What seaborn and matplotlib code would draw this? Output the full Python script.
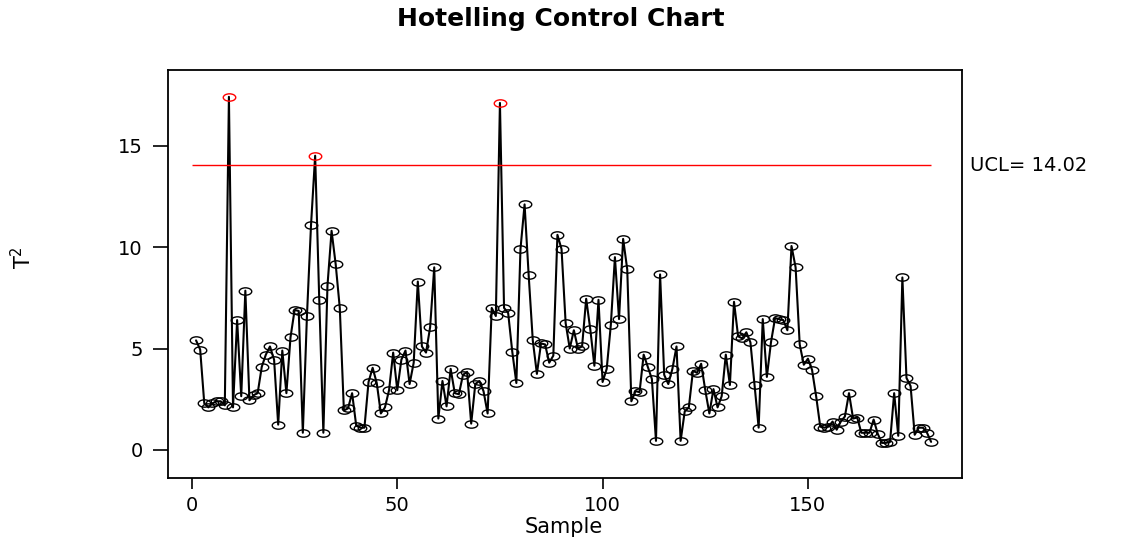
import numpy as np
import pandas as pd
import matplotlib
matplotlib.use('Agg')
import matplotlib.pyplot as plt
import seaborn as sns
from matplotlib.path import Path
from matplotlib.transforms import Affine2D

# Estilo
sns.set_style("ticks")
plt.rcParams['font.family'] = ['DejaVu Sans']
plt.rcParams['text.color'] = 'black'
plt.rcParams['axes.labelcolor'] = 'black'
plt.rcParams['xtick.color'] = 'black'
plt.rcParams['ytick.color'] = 'black'

# Dados (T², amostras 1..180)
amostras = list(range(1, 181))
t2_valores = [
    5.4, 4.95, 2.3, 2.1, 2.3, 2.4, 2.4, 2.2, 17.4, 2.1,
    6.4, 2.65, 7.85, 2.45, 2.7, 2.8, 4.1, 4.7, 5.1, 4.45,
    1.25, 4.9, 2.8, 5.55, 6.9, 6.85, 0.85, 6.6, 11.1, 14.5,
    7.4, 0.85, 8.1, 10.8, 9.15, 7.0, 1.95, 2.05, 2.8, 1.2,
    1.1, 1.1, 3.35, 4.05, 3.3, 1.8, 2.1, 2.95, 4.8, 2.95,
    4.45, 4.9, 3.25, 4.3, 8.3, 5.1, 4.8, 6.05, 9.0, 1.55,
    3.4, 2.15, 4.0, 2.8, 2.75, 3.7, 3.85, 1.3, 3.25, 3.4,
    2.9, 1.8, 7.0, 6.6, 17.1, 7.0, 6.75, 4.85, 3.3, 9.9,
    12.1, 8.6, 5.4, 3.75, 5.25, 5.2, 4.3, 4.65, 10.6, 9.9,
    6.25, 5.0, 5.9, 5.0, 5.1, 7.45, 5.95, 4.15, 7.4, 3.35,
    4.0, 6.15, 9.5, 6.45, 10.4, 8.9, 2.4, 2.9, 2.85, 4.7,
    4.1, 3.5, 0.45, 8.65, 3.7, 3.25, 4.0, 5.1, 0.45, 1.9,
    2.1, 3.9, 3.8, 4.25, 2.95, 1.8, 3.0, 2.1, 2.65, 4.7,
    3.2, 7.3, 5.6, 5.5, 5.8, 5.3, 3.2, 1.1, 6.45, 3.6,
    5.3, 6.5, 6.45, 6.4, 5.9, 10.05, 9.0, 5.2, 4.2, 4.5,
    3.95, 2.65, 1.15, 1.1, 1.15, 1.4, 1.0, 1.4, 1.65, 2.8,
    1.55, 1.6, 0.85, 0.85, 0.85, 1.5, 0.8, 0.35, 0.35, 0.4,
    2.8, 0.7, 8.5, 3.55, 3.15, 0.75, 1.1, 1.1, 0.85, 0.4,
]
ucl = 14.02
x_ticks = [0, 50, 100, 150]
y_ticks = [0, 5, 10, 15]

df = pd.DataFrame({'amostra': amostras, 't2': t2_valores})
df['fora'] = df['t2'] > ucl

# Marcador elíptico (o original está esticado na horizontal)
elipse = Path.unit_circle().transformed(Affine2D().scale(1.7, 1.0))

fig = plt.figure(figsize=(11.45, 5.4), dpi=100)
ax = fig.add_axes([0.1467, 0.1148, 0.6934, 0.7555])

sns.lineplot(data=df, x='amostra', y='t2', color='black', linewidth=1.5,
             estimator=None, ax=ax)
dentro = df[~df['fora']]
fora = df[df['fora']]
ax.plot(dentro['amostra'], dentro['t2'], linestyle='none', marker=elipse,
        markersize=9, markerfacecolor='none', markeredgecolor='black',
        markeredgewidth=1.0)
ax.plot(fora['amostra'], fora['t2'], linestyle='none', marker=elipse,
        markersize=9, markerfacecolor='none', markeredgecolor='red',
        markeredgewidth=1.0)

ax.hlines(ucl, 0, 180, color='red', linewidth=1.0)
ax.text(1.0101, ucl, f'UCL= {ucl:.2f}', transform=ax.get_yaxis_transform(),
        ha='left', va='center', fontsize=14)

ax.set_xlim(-5.84, 187.5)
ax.set_ylim(-1.38, 18.72)
ax.set_xticks(x_ticks)
ax.set_yticks(y_ticks)
ax.tick_params(axis='x', direction='out', length=8, width=1.2, pad=5,
               labelsize=14)
ax.tick_params(axis='y', direction='out', length=11, width=1.2, pad=7,
               labelsize=14)
ax.set_xlabel('')
ax.set_ylabel('')
for lado in ax.spines.values():
    lado.set_visible(True)
    lado.set_color('black')
    lado.set_linewidth(1.3)

fig.text(0.49, 1 - 19 / 540, 'Hotelling Control Chart', ha='center',
         va='center', fontsize=18, fontweight='bold')
fig.text(0.492, 1 - 527 / 540, 'Sample', ha='center', va='center', fontsize=15)
fig.text(0.02, 1 - 258 / 540, r'T$^2$', ha='center', va='center',
         rotation=90, fontsize=15)

fig.savefig('out.png', dpi=100)
plt.close(fig)
